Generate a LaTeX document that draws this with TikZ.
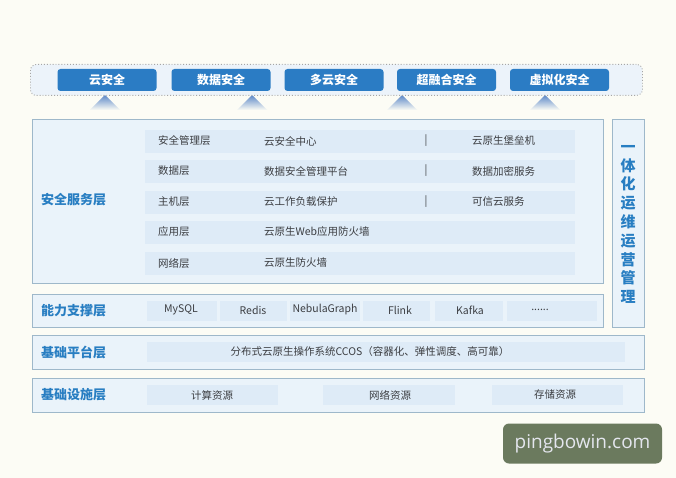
\documentclass[tikz,border=0pt]{standalone}
\usepackage{fontspec}
\setmainfont{Noto Sans CJK SC}
\newfontfamily\wmfont{Open Sans}
\definecolor{bg}{RGB}{252,252,245}
\definecolor{btnblue}{RGB}{43,124,196}
\definecolor{lbl}{RGB}{40,126,194}
\definecolor{boxfill}{RGB}{234,243,250}
\definecolor{outerfill}{RGB}{236,243,250}
\definecolor{boxline}{RGB}{158,184,202}
\definecolor{stripe}{RGB}{222,235,247}
\definecolor{txt}{RGB}{60,62,66}
\definecolor{wm}{RGB}{107,122,94}
\definecolor{wmtext}{RGB}{228,230,238}
\definecolor{tri}{RGB}{92,136,200}
\begin{document}
\begin{tikzpicture}[x=1pt,y=-1pt,
  btnbox/.style={fill=btnblue, text=white, font=\fontsize{12}{14}\selectfont\bfseries, rounded corners=3pt, minimum width=99pt, minimum height=22pt, inner sep=0},
  panel/.style={draw=boxline, fill=boxfill, line width=0.9pt, inner sep=0, anchor=north west},
  strip/.style={fill=stripe, inner sep=0, anchor=north west},
  lab/.style={text=lbl, font=\fontsize{13}{15}\selectfont\bfseries, anchor=west, inner sep=0},
  rowtxt/.style={text=txt, font=\fontsize{10.5}{12}\selectfont, anchor=west, inner sep=0},
  ctxt/.style={text=txt, font=\fontsize{10.5}{12}\selectfont, inner sep=0},
  tri/.style={top color=tri, bottom color=bg, draw=none}]
\path[use as bounding box, fill=bg] (0,0) rectangle (676,478);

% arrows (triangles)
\shade[tri] (90,110) -- (105,95) -- (120,110) -- cycle;
\shade[tri] (237,110) -- (252,95) -- (267,110) -- cycle;
\shade[tri] (387,110) -- (402,95) -- (417,110) -- cycle;
\shade[tri] (530,110) -- (545,95) -- (560,110) -- cycle;

% top dotted container
\node[draw=gray!70, dotted, line width=0.9pt, fill=outerfill, rounded corners=6pt, inner sep=0, anchor=north west, minimum width=612pt, minimum height=31pt] (top) at (30,64) {};
\node[btnbox] (b1) at (107,80) {云安全};
\node[btnbox] (b2) at (221,80) {数据安全};
\node[btnbox] (b3) at (334,80) {多云安全};
\node[btnbox] (b4) at (446.5,80) {超融合安全};
\node[btnbox] (b5) at (559.5,80) {虚拟化安全};

% security service layer
\node[panel, minimum width=571pt, minimum height=164pt] (sec) at (32,119) {};
\node[lab] (secl) at (41,200) {安全服务层};
\node[strip, minimum width=430pt, minimum height=23pt] (r1) at (145,129.5) {};
\node[strip, minimum width=430pt, minimum height=23pt] (r2) at (145,159.5) {};
\node[strip, minimum width=430pt, minimum height=23pt] (r3) at (145,190.5) {};
\node[strip, minimum width=430pt, minimum height=23pt] (r4) at (145,220.5) {};
\node[strip, minimum width=430pt, minimum height=23pt] (r5) at (145,251.5) {};
\node[rowtxt] (r1a) at (158,141) {安全管理层};
\node[rowtxt] (r1b) at (264,141) {云安全中心};
\node[ctxt] (r1c) at (426,141) {|};
\node[rowtxt] (r1d) at (472,141) {云原生堡垒机};
\node[rowtxt] (r2a) at (158,171) {数据层};
\node[rowtxt] (r2b) at (264,171) {数据安全管理平台};
\node[ctxt] (r2c) at (426,171) {|};
\node[rowtxt] (r2d) at (472,171) {数据加密服务};
\node[rowtxt] (r3a) at (158,202) {主机层};
\node[rowtxt] (r3b) at (264,202) {云工作负载保护};
\node[ctxt] (r3c) at (426,202) {|};
\node[rowtxt] (r3d) at (472,202) {可信云服务};
\node[rowtxt] (r4a) at (158,232) {应用层};
\node[rowtxt] (r4b) at (264,232) {云原生Web应用防火墙};
\node[rowtxt] (r5a) at (158,263) {网络层};
\node[rowtxt] (r5b) at (264,263) {云原生防火墙};

% right vertical box
\node[panel, minimum width=32pt, minimum height=208pt] (ops) at (612,119) {};
\node[text=lbl, font=\fontsize{15}{18.8}\selectfont\bfseries, align=center, inner sep=0] (opst) at (628,224.5) {一\\体\\化\\运\\维\\运\\营\\管\\理};

% capability layer
\node[panel, minimum width=571pt, minimum height=33pt] (cap) at (32,294) {};
\node[lab] (capl) at (41,311) {能力支撑层};
\node[strip, minimum width=70pt, minimum height=20pt] (c1) at (147,301) {};
\node[strip, minimum width=67pt, minimum height=20pt] (c2) at (220,301) {};
\node[strip, minimum width=70pt, minimum height=20pt] (c3) at (290,301) {};
\node[strip, minimum width=67pt, minimum height=20pt] (c4) at (363,301) {};
\node[strip, minimum width=68pt, minimum height=20pt] (c5) at (435,301) {};
\node[strip, minimum width=90pt, minimum height=20pt] (c6) at (507,301) {};
\node[ctxt] (c1t) at (181,310) {MySQL};
\node[ctxt] (c2t) at (253,310) {Redis};
\node[ctxt] (c3t) at (325,310) {NebulaGraph};
\node[ctxt] (c4t) at (400,310) {Flink};
\node[ctxt] (c5t) at (470,310) {Kafka};
\node[ctxt] (c6t) at (540,310) {......};

% platform layer
\node[panel, minimum width=612pt, minimum height=34pt] (plat) at (32,335) {};
\node[lab] (platl) at (41,352) {基础平台层};
\node[strip, minimum width=478pt, minimum height=20pt] (p1) at (147,342) {};
\node[ctxt] (p1t) at (370,352) {分布式云原生操作系统CCOS（容器化、弹性调度、高可靠）};

% infrastructure layer
\node[panel, minimum width=612pt, minimum height=34pt] (infra) at (32,378) {};
\node[lab] (infral) at (41,395) {基础设施层};
\node[strip, minimum width=131pt, minimum height=20pt] (i1) at (147,385) {};
\node[strip, minimum width=132pt, minimum height=20pt] (i2) at (323,385) {};
\node[strip, minimum width=131pt, minimum height=20pt] (i3) at (492,385) {};
\node[ctxt] (i1t) at (212,395) {计算资源};
\node[ctxt] (i2t) at (390,395) {网络资源};
\node[ctxt] (i3t) at (555,395) {存储资源};

% watermark
\node[fill=wm, rounded corners=6pt, minimum width=159pt, minimum height=40pt, inner sep=0, text=wmtext, font=\wmfont\fontsize{19}{22}\selectfont] (wmk) at (582.5,443.5) {pingbowin.com};
\end{tikzpicture}
\end{document}
